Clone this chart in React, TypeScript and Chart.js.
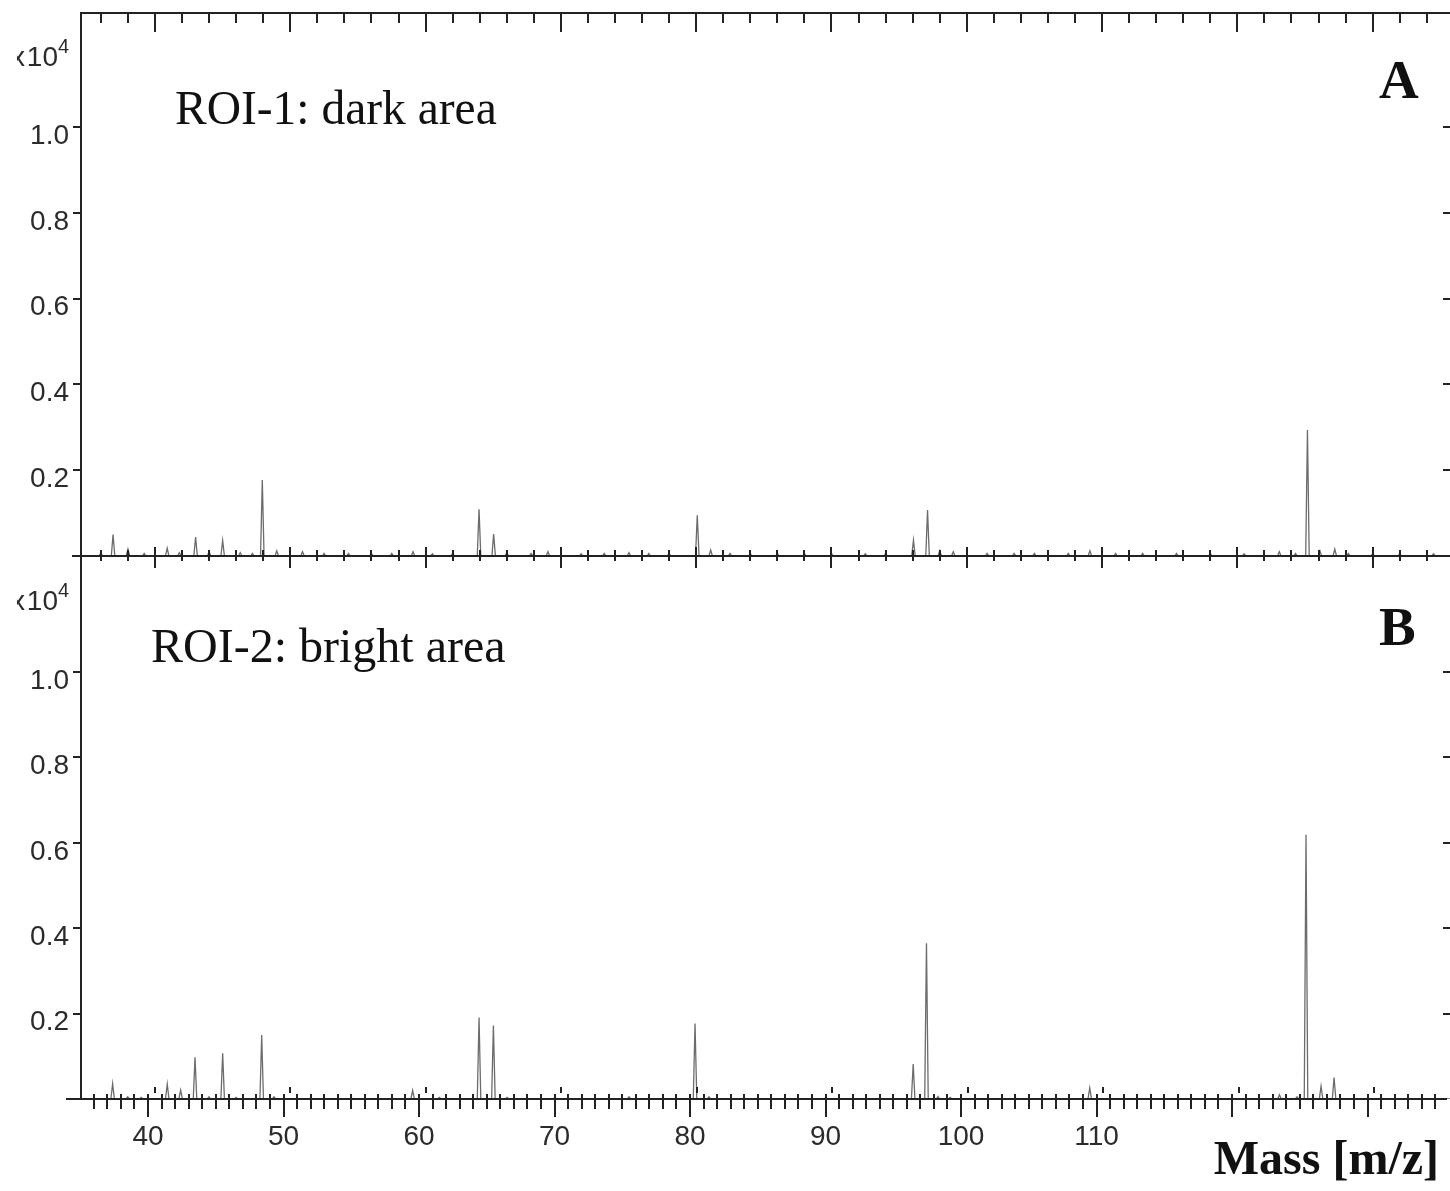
import React, { useEffect, useRef } from 'react';
import { Chart, registerables } from 'chart.js';

Chart.register(...registerables);

// ---------------- data ----------------
const Y_TICKS = [0.2, 0.4, 0.6, 0.8, 1.0];
const X_TICK_LABELS = [40, 50, 60, 70, 80, 90, 100, 110];

// visible m/z window of each panel (the two panels are offset by ~0.5)
const X_RANGE_A = [34.53, 135.79];
const X_RANGE_B = [35.055, 136.16];
const Y_MAX_A = 1.266;
const Y_MAX_B = 1.272;

// ROI-1: dark area  [m/z, intensity x10^4]
const PEAKS_A: [number, number][] = [
  [36.0, 0.008], [36.9, 0.05], [38.0, 0.016], [39.2, 0.006], [40.9, 0.018],
  [41.8, 0.008], [43.0, 0.044], [44.0, 0.01], [45.0, 0.036], [46.3, 0.008],
  [47.2, 0.006], [47.93, 0.177], [49.0, 0.012], [50.9, 0.01], [52.5, 0.006],
  [54.3, 0.006], [56.0, 0.005], [57.5, 0.006], [59.07, 0.01], [60.5, 0.005],
  [62.0, 0.006], [63.95, 0.109], [65.03, 0.051], [66.0, 0.008], [67.8, 0.006],
  [69.04, 0.01], [71.5, 0.005], [73.2, 0.006], [75.03, 0.008], [76.5, 0.006],
  [78.0, 0.006], [80.08, 0.095], [81.07, 0.014], [82.5, 0.006], [84.0, 0.005],
  [86.0, 0.006], [88.0, 0.005], [90.0, 0.006], [92.5, 0.005], [94.0, 0.006],
  [96.06, 0.037], [97.1, 0.107], [98.0, 0.012], [99.0, 0.01], [101.5, 0.006],
  [103.5, 0.006], [105.0, 0.006], [107.5, 0.006], [109.1, 0.012], [111.0, 0.006],
  [113.0, 0.006], [115.5, 0.006], [118.0, 0.006], [120.5, 0.005], [123.1, 0.01],
  [124.3, 0.006], [125.18, 0.294], [126.1, 0.012], [127.2, 0.016], [128.2, 0.006],
  [130.0, 0.005], [132.0, 0.005], [134.5, 0.005],
];

// ROI-2: bright area  [m/z, intensity x10^4]
const PEAKS_B: [number, number][] = [
  [37.39, 0.036], [38.5, 0.005], [39.5, 0.004], [41.42, 0.035], [42.41, 0.021],
  [43.47, 0.098], [44.5, 0.005], [45.51, 0.107], [46.5, 0.004], [48.39, 0.15],
  [49.3, 0.005], [52.0, 0.003], [55.0, 0.003], [59.53, 0.02], [61.5, 0.004],
  [64.43, 0.191], [65.49, 0.172], [66.5, 0.004], [70.0, 0.003], [75.5, 0.005],
  [80.37, 0.177], [81.4, 0.005], [85.0, 0.003], [90.0, 0.003], [96.47, 0.082],
  [97.45, 0.365], [98.3, 0.006], [99.2, 0.004], [104.0, 0.003], [109.5, 0.026],
  [116.0, 0.003], [123.5, 0.01], [124.8, 0.005], [125.46, 0.619], [126.57, 0.03],
  [127.53, 0.05], [131.0, 0.003],
];

// small dark marks just above the lower axis of panel B
const B_INNER_MARKS = [40.5, 50.5, 60.5, 70.5, 80.5, 90.5, 100.5, 110.5, 120.5, 130.5];

// ---------------- styling ----------------
const AXIS = '#222222';
const TICK_TEXT = '#2b2b2b';
const PEAK_COLOR = '#6c6c6c';
const SANS = '"Liberation Sans", Arial, sans-serif';
const SERIF = '"Liberation Serif", "Times New Roman", serif';
const HALF_WIDTH = 0.13;

function toLine(peaks: [number, number][], min: number, max: number) {
  const pts: { x: number; y: number }[] = [{ x: min, y: 0 }];
  const sorted = [...peaks].sort((a, b) => a[0] - b[0]);
  for (const [m, h] of sorted) {
    pts.push({ x: m - HALF_WIDTH, y: 0 }, { x: m, y: h }, { x: m + HALF_WIDTH, y: 0 });
  }
  pts.push({ x: max, y: 0 });
  return pts;
}

const decoPlugin = {
  id: 'deco',
  afterDatasetsDraw(chart: any, _args: any, opts: any) {
    const { ctx } = chart;
    const { left, right, top, bottom } = chart.chartArea;
    const xs = chart.scales.x;
    const ys = chart.scales.y;
    ctx.save();
    ctx.strokeStyle = AXIS;
    ctx.lineWidth = 2;
    ctx.lineCap = 'butt';
    const line = (x1: number, y1: number, x2: number, y2: number) => {
      ctx.beginPath();
      ctx.moveTo(x1, y1);
      ctx.lineTo(x2, y2);
      ctx.stroke();
    };
    // frame
    line(opts.axisStartX, bottom, opts.axisEndX, bottom);
    line(left, top - (opts.topBorder ? 1 : 0), left, bottom + 1);
    line(right, top, right, bottom);
    if (opts.topBorder) line(left, top, right + 1, top);

    // x ticks
    const lo = Math.ceil(xs.min);
    const hi = Math.floor(xs.max);
    for (let v = lo; v <= hi; v++) {
      if (v % opts.tickStep !== 0) continue;
      const px = Math.round(xs.getPixelForValue(v));
      if (px > opts.axisEndX) continue;
      const major = v % 10 === 0;
      line(px, bottom - (major ? opts.majUp : opts.minUp), px, bottom + (major ? opts.majDown : opts.minDown));
      if (opts.topBorder) line(px, top, px, top + (major ? 19 : 10));
    }
    if (opts.innerMarks) {
      for (const v of opts.innerMarks) {
        if (v < xs.min || v > xs.max) continue;
        const px = Math.round(xs.getPixelForValue(v));
        line(px, bottom - 12, px, bottom - 6);
      }
    }
    // y ticks (outside on the left, inside on the right)
    for (const v of Y_TICKS) {
      const py = Math.round(ys.getPixelForValue(v));
      line(left - 8, py, left, py);
      line(right - 8, py, right, py);
    }

    // x10^4 exponent label (the "x" is cut by the picture edge)
    ctx.fillStyle = TICK_TEXT;
    ctx.textBaseline = 'alphabetic';
    ctx.save();
    ctx.beginPath();
    ctx.rect(17, 0, 200, chart.height);
    ctx.clip();
    ctx.font = `28px ${SANS}`;
    ctx.textAlign = 'right';
    ctx.fillText('x', 25, opts.expY);
    ctx.restore();
    ctx.font = `28px ${SANS}`;
    ctx.textAlign = 'right';
    ctx.fillText('10', 58, opts.expY);
    ctx.font = `20px ${SANS}`;
    ctx.textAlign = 'left';
    ctx.fillText('4', 58, opts.expY - 13);

    // panel title and letter
    ctx.fillStyle = '#111111';
    ctx.textAlign = 'left';
    ctx.font = `${opts.titleSize}px ${SERIF}`;
    ctx.fillText(opts.title, opts.titleX, opts.titleY);
    ctx.font = `bold 55px ${SERIF}`;
    ctx.fillText(opts.letter, opts.letterX, opts.letterY);
    ctx.restore();
  },
};

type Panel = {
  peaks: [number, number][];
  xRange: number[];
  yMax: number;
  padTop: number;
  xAxisHeight: number;
  showXLabels: boolean;
  deco: any;
};

function makeConfig(p: Panel): any {
  const [xMin, xMax] = p.xRange;
  return {
    type: 'line',
    data: {
      datasets: [
        {
          data: toLine(p.peaks, xMin, xMax),
          borderColor: PEAK_COLOR,
          borderWidth: 1.3,
          pointRadius: 0,
          tension: 0,
          fill: false,
        },
      ],
    },
    options: {
      animation: false,
      responsive: false,
      devicePixelRatio: 1,
      layout: { padding: { top: p.padTop, right: 9, left: 0, bottom: 0 } },
      plugins: {
        legend: { display: false },
        tooltip: { enabled: false },
        deco: p.deco,
      },
      scales: {
        x: {
          type: 'linear',
          position: 'bottom',
          min: xMin,
          max: xMax,
          grid: { drawOnChartArea: false, drawTicks: false },
          border: { display: false },
          ticks: {
            display: p.showXLabels,
            autoSkip: false,
            maxRotation: 0,
            minRotation: 0,
            padding: 21,
            color: TICK_TEXT,
            font: { family: SANS, size: 28 },
            callback: (v: any) => String(v),
          },
          afterBuildTicks: (s: any) => {
            s.ticks = X_TICK_LABELS.map((value) => ({ value }));
          },
          afterFit: (s: any) => {
            s.height = p.xAxisHeight;
            s.paddingLeft = 0;
            s.paddingRight = 0;
            s.paddingTop = 0;
            s.paddingBottom = 0;
          },
          title: p.showXLabels
            ? {
                display: true,
                text: 'Mass [m/z] ',
                align: 'end',
                color: '#111111',
                font: { family: SERIF, size: 48, weight: 'bold' },
                padding: { top: 0, bottom: 1 },
              }
            : { display: false },
        },
        y: {
          type: 'linear',
          position: 'left',
          min: 0,
          max: p.yMax,
          grid: { drawOnChartArea: false, drawTicks: false },
          border: { display: true, color: AXIS, width: 2 },
          ticks: {
            padding: 12,
            labelOffset: 9,
            color: TICK_TEXT,
            font: { family: SANS, size: 28 },
            callback: (v: any) => Number(v).toFixed(1),
          },
          afterBuildTicks: (s: any) => {
            s.ticks = Y_TICKS.map((value) => ({ value }));
          },
          afterFit: (s: any) => {
            s.width = 81;
            s.paddingLeft = 0;
            s.paddingRight = 0;
            s.paddingTop = 0;
            s.paddingBottom = 0;
          },
        },
      },
    },
    plugins: [decoPlugin],
  };
}

const PANEL_A: Panel = {
  peaks: PEAKS_A,
  xRange: X_RANGE_A,
  yMax: Y_MAX_A,
  padTop: 13,
  xAxisHeight: 24,
  showXLabels: false,
  deco: {
    axisStartX: 72,
    axisEndX: 1452,
    topBorder: true,
    tickStep: 2,
    minUp: 6, minDown: 5, majUp: 9, majDown: 12,
    expY: 66,
    title: 'ROI-1: dark area', titleX: 175, titleY: 124, titleSize: 47.5,
    letter: 'A', letterX: 1379, letterY: 98,
  },
};

const PANEL_B: Panel = {
  peaks: PEAKS_B,
  xRange: X_RANGE_B,
  yMax: Y_MAX_B,
  padTop: 16,
  xAxisHeight: 92,
  showXLabels: true,
  deco: {
    axisStartX: 66,
    axisEndX: 1447,
    topBorder: false,
    tickStep: 1,
    minUp: 5, minDown: 10, majUp: 5, majDown: 18,
    innerMarks: B_INNER_MARKS,
    expY: 70,
    title: 'ROI-2: bright area', titleX: 151, titleY: 122, titleSize: 48,
    letter: 'B', letterX: 1379, letterY: 105,
  },
};

function SpectrumPanel({ panel, top, height }: { panel: Panel; top: number; height: number }) {
  const ref = useRef<HTMLCanvasElement | null>(null);
  useEffect(() => {
    if (!ref.current) return;
    const chart = new Chart(ref.current, makeConfig(panel));
    return () => chart.destroy();
  }, [panel]);
  return (
    <canvas
      ref={ref}
      width={1460}
      height={height}
      style={{ position: 'absolute', left: 0, top, width: 1460, height }}
    />
  );
}

export default function App() {
  return (
    <div
      style={{
        position: 'absolute',
        left: 0,
        top: 0,
        width: 1450,
        height: 1191,
        overflow: 'hidden',
        background: '#ffffff',
      }}
    >
      <SpectrumPanel panel={PANEL_A} top={0} height={580} />
      <SpectrumPanel panel={PANEL_B} top={540} height={651} />
    </div>
  );
}
